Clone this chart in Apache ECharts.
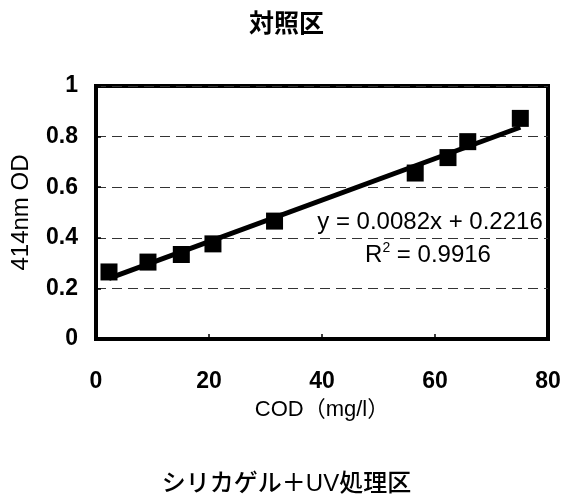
<!DOCTYPE html>
<html>
<head>
<meta charset="utf-8">
<script src="https://cdn.jsdelivr.net/npm/echarts@6/dist/echarts.min.js"></script>
<style>html,body{margin:0;padding:0;background:#fff;}#c{width:573px;height:503px;}</style>
</head>
<body>
<div id="c"></div>
<script>
// Data
const codValues = [2.3, 9.2, 15.1, 20.7, 31.6, 56.5, 62.3, 65.8, 75.1];
const odValues  = [0.265, 0.304, 0.334, 0.376, 0.466, 0.656, 0.717, 0.780, 0.872];
const trendX = [2.3, 75.1];
const trendY = [0.240, 0.837];
const yTicks = [0, 0.2, 0.4, 0.6, 0.8, 1];
const xTicks = [0, 20, 40, 60, 80];
const titleText = '対照区';
const bottomText = 'シリカゲル＋UV処理区';
const eqText = 'y = 0.0082x + 0.2216';
const r2Value = '0.9916';

const FONT = "'Liberation Sans', 'Noto Sans CJK JP', sans-serif";
const chart = echarts.init(document.getElementById('c'), null, {renderer: 'canvas'});

const points = codValues.map((x, i) => [x, odValues[i]]);
const trend = trendX.map((x, i) => [x, trendY[i]]);

chart.setOption({
  backgroundColor: '#fff',
  animation: false,
  title: {
    text: titleText,
    left: 'center',
    top: 8,
    textStyle: {fontFamily: FONT, fontSize: 25, fontWeight: 'bold', color: '#000'}
  },
  grid: {
    left: 96, right: 25, top: 86, bottom: 164,
    show: true, borderColor: '#000', borderWidth: 4, backgroundColor: 'transparent'
  },
  xAxis: {
    type: 'value', min: xTicks[0], max: xTicks[xTicks.length - 1], interval: 20,
    name: 'COD（mg/l）', nameLocation: 'middle', nameGap: 60,
    nameTextStyle: {fontFamily: FONT, fontSize: 22, color: '#000'},
    axisLine: {show: true, lineStyle: {color: '#000', width: 4}},
    axisTick: {show: true, inside: true, length: 5, lineStyle: {color: '#000', width: 1.5}},
    axisLabel: {margin: 31, fontFamily: FONT, fontSize: 23, fontWeight: 'bold', color: '#000'},
    splitLine: {show: false}
  },
  yAxis: {
    type: 'value', min: yTicks[0], max: yTicks[yTicks.length - 1], interval: 0.2,
    name: '414nm OD', nameLocation: 'middle', nameGap: 63, nameRotate: 90,
    nameTextStyle: {fontFamily: FONT, fontSize: 24, color: '#000'},
    axisLine: {show: true, lineStyle: {color: '#000', width: 4}},
    axisTick: {show: true, inside: true, length: 5, lineStyle: {color: '#000', width: 1.5}},
    axisLabel: {margin: 18, fontFamily: FONT, fontSize: 23, fontWeight: 'bold', color: '#000'},
    splitLine: {show: true, lineStyle: {color: '#333', width: 1, type: [10, 6]}}
  },
  series: [
    {
      type: 'line', data: trend, symbol: 'none', z: 2,
      lineStyle: {color: '#000', width: 5}
    },
    {
      type: 'scatter', data: points, symbol: 'rect', symbolSize: 17, z: 3,
      itemStyle: {color: '#000', opacity: 1}
    }
  ],
  graphic: [
    {
      type: 'text', left: 'center', top: 472,
      style: {text: bottomText, font: '500 24px ' + FONT, fill: '#000'}
    },
    {
      type: 'text', x: 430, y: 222,
      style: {text: eqText, font: '24px ' + FONT, fill: '#000', align: 'center', verticalAlign: 'middle'}
    },
    {
      type: 'text', x: 428, y: 255,
      style: {
        text: '{b|R}{s|2}{b| = ' + r2Value + '}',
        align: 'center', verticalAlign: 'middle',
        rich: {
          b: {fontFamily: FONT, fontSize: 24, color: '#000', lineHeight: 28},
          s: {fontFamily: FONT, fontSize: 14, color: '#000', verticalAlign: 'top', lineHeight: 28}
        }
      }
    }
  ]
});
</script>
</body>
</html>
